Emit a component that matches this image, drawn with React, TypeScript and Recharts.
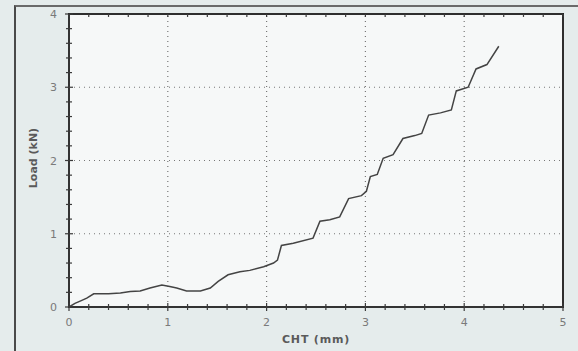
import { LineChart, Line, XAxis, YAxis, ReferenceLine, ReferenceArea } from 'recharts';

document.body.style.margin = '0';

// CHT displacement (mm) and load (kN)
const cht = [
  0, 0.06, 0.13, 0.18, 0.25, 0.4, 0.52, 0.62, 0.72, 0.82, 0.94, 1.02, 1.09, 1.19, 1.33, 1.43,
  1.51, 1.61, 1.73, 1.83, 1.97, 2.07, 2.11, 2.15, 2.27, 2.47, 2.54, 2.64, 2.74, 2.83, 2.96, 3.01,
  3.05, 3.12, 3.18, 3.28, 3.38, 3.5, 3.57, 3.64, 3.76, 3.87, 3.92, 4.04, 4.12, 4.23, 4.35,
];
const load = [
  0, 0.05, 0.09, 0.12, 0.18, 0.18, 0.19, 0.21, 0.22, 0.26, 0.3, 0.28, 0.26, 0.22, 0.22, 0.26,
  0.35, 0.44, 0.48, 0.5, 0.55, 0.6, 0.64, 0.84, 0.87, 0.94, 1.17, 1.19, 1.23, 1.48, 1.52, 1.58,
  1.78, 1.81, 2.03, 2.08, 2.3, 2.34, 2.37, 2.62, 2.65, 2.69, 2.95, 3.0, 3.25, 3.31, 3.56,
];

const xTicks = [0, 0.2, 0.4, 0.6, 0.8, 1, 1.2, 1.4, 1.6, 1.8, 2, 2.2, 2.4, 2.6, 2.8, 3, 3.2, 3.4, 3.6, 3.8, 4, 4.2, 4.4, 4.6, 4.8, 5];
const yTicks = [0, 0.2, 0.4, 0.6, 0.8, 1, 1.2, 1.4, 1.6, 1.8, 2, 2.2, 2.4, 2.6, 2.8, 3, 3.2, 3.4, 3.6, 3.8, 4];
const gridX = [1, 2, 3, 4];
const gridY = [1, 2, 3];

const data = cht.map((x, i) => ({ x, y: load[i] }));

const axisColor = '#3a3a3a';
const labelColor = '#7a7a7a';
const isMajor = (v: number) => Math.abs(v - Math.round(v)) < 1e-6;

const BottomTick = (props: any) => {
  const { x, y, payload } = props;
  const major = isMajor(payload.value);
  const len = major ? 4 : 3;
  return (
    <g>
      <line x1={x} x2={x} y1={y - len} y2={y + len} stroke={axisColor} strokeWidth={1.2} />
      {major && (
        <text x={x} y={y + 19} textAnchor="middle" fill={labelColor} fontSize={11} fontFamily="DejaVu Sans, sans-serif">
          {payload.value}
        </text>
      )}
    </g>
  );
};

const LeftTick = (props: any) => {
  const { x, y, payload } = props;
  const major = isMajor(payload.value);
  const len = major ? 4 : 3;
  return (
    <g>
      <line x1={x - len} x2={x + len} y1={y} y2={y} stroke={axisColor} strokeWidth={1.2} />
      {major && (
        <text x={x - 12} y={y + 4} textAnchor="end" fill={labelColor} fontSize={11} fontFamily="DejaVu Sans, sans-serif">
          {payload.value}
        </text>
      )}
    </g>
  );
};

export default function App() {
  return (
    <div style={{ position: 'relative', width: 578, height: 351, background: '#e5ecec', overflow: 'hidden' }}>
      <div
        style={{
          position: 'absolute',
          left: 14,
          top: 5,
          width: 580,
          height: 360,
          borderLeft: '2px solid #4a4a4a',
          borderTop: '2px solid #6a6a6a',
        }}
      />
      <div style={{ position: 'absolute', left: 0, top: 0 }}>
        <LineChart width={578} height={351} data={data} margin={{ top: 14, right: 15, bottom: 0, left: 29 }}>
          <ReferenceArea
            x1={0}
            x2={5}
            y1={0}
            y2={4}
            xAxisId="b"
            yAxisId="l"
            fill="#f6f8f8"
            fillOpacity={1}
            stroke="#222"
            strokeWidth={2}
          />
          <XAxis
            xAxisId="b"
            dataKey="x"
            type="number"
            domain={[0, 5]}
            ticks={xTicks}
            interval={0}
            tick={<BottomTick />}
            tickLine={false}
            tickSize={0}
            tickMargin={0}
            axisLine={{ stroke: axisColor, strokeWidth: 1.5 }}
            height={44}
          />
          <YAxis
            yAxisId="l"
            type="number"
            domain={[0, 4]}
            ticks={yTicks}
            interval={0}
            tick={<LeftTick />}
            tickLine={false}
            tickSize={0}
            tickMargin={0}
            axisLine={{ stroke: axisColor, strokeWidth: 1.5 }}
            width={40}
          />
          {gridX.map((v) => (
            <ReferenceLine key={`gx${v}`} x={v} xAxisId="b" yAxisId="l" stroke="#777" strokeDasharray="1 4" strokeWidth={1.2} />
          ))}
          {gridY.map((v) => (
            <ReferenceLine key={`gy${v}`} y={v} xAxisId="b" yAxisId="l" stroke="#777" strokeDasharray="1 4" strokeWidth={1.2} />
          ))}
          <ReferenceLine y={4} xAxisId="b" yAxisId="l" ifOverflow="visible" stroke="#333" strokeWidth={1.5} />
          <ReferenceLine x={5} xAxisId="b" yAxisId="l" ifOverflow="visible" stroke="#333" strokeWidth={1.5} />
          {xTicks.map((v) => (
            <ReferenceLine
              key={`tt${v}`}
              xAxisId="b"
              yAxisId="l"
              segment={[{ x: v, y: 4 }, { x: v, y: 3.96 }]}
              stroke={axisColor}
              strokeWidth={1.2}
            />
          ))}
          <Line
            xAxisId="b"
            yAxisId="l"
            dataKey="y"
            type="linear"
            stroke="#444"
            strokeWidth={1.5}
            dot={false}
            isAnimationActive={false}
          />
        </LineChart>
      </div>
      <div
        style={{
          position: 'absolute',
          left: 33,
          top: 158,
          transform: 'translate(-50%, -50%) rotate(-90deg)',
          fontFamily: 'DejaVu Sans, sans-serif',
          fontSize: 11,
          fontWeight: 'bold',
          color: '#5a5a5a',
          whiteSpace: 'nowrap',
        }}
      >
        Load (kN)
      </div>
      <div
        style={{
          position: 'absolute',
          left: 316,
          top: 339,
          transform: 'translate(-50%, -50%)',
          fontFamily: 'DejaVu Sans, sans-serif',
          fontSize: 11,
          fontWeight: 'bold',
          letterSpacing: 0.8,
          color: '#5a5a5a',
          whiteSpace: 'nowrap',
        }}
      >
        CHT (mm)
      </div>
    </div>
  );
}
